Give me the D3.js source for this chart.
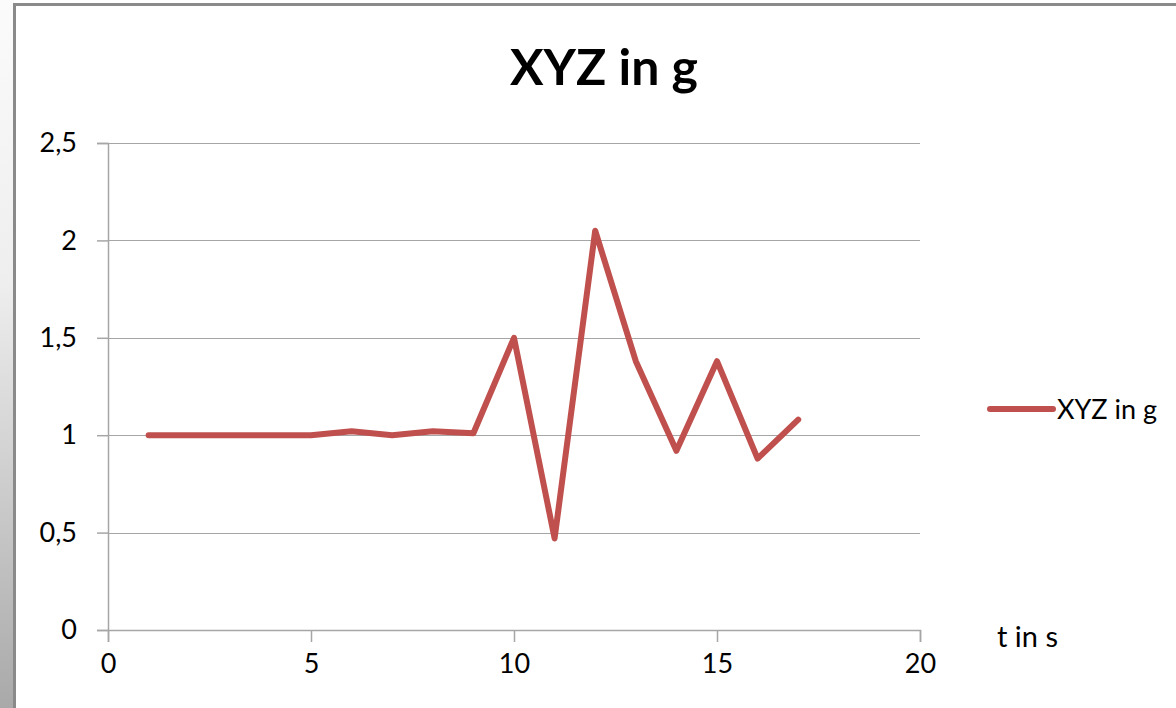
<!DOCTYPE html>
<html>
<head>
<meta charset="utf-8">
<script src="https://cdn.jsdelivr.net/npm/d3@7"></script>
<style>
  html, body { margin: 0; padding: 0; background: #fff; }
  svg { display: block; }
  text { font-family: Lato, "Open Sans", sans-serif; fill: #000; }
</style>
</head>
<body>
<svg id="chart" width="1176" height="708"></svg>
<script>
// ---- data ----
const title = "XYZ in g";
const seriesName = "XYZ in g";
const xAxisLabel = "t in s";
const tValues = [1, 2, 3, 4, 5, 6, 7, 8, 9, 10, 11, 12, 13, 14, 15, 16, 17];
const gValues = [1.0, 1.0, 1.0, 1.0, 1.0, 1.02, 1.0, 1.02, 1.01, 1.5, 0.47, 2.05, 1.38, 0.92, 1.38, 0.88, 1.08];
const xTicks = [0, 5, 10, 15, 20];
const yTicks = [0, 0.5, 1, 1.5, 2, 2.5];

const svg = d3.select("#chart");
const W = 1176, H = 708;

// background frame: left gradient strip + gray border
const defs = svg.append("defs");
const grad = defs.append("linearGradient").attr("id", "leftGrad")
  .attr("x1", 0).attr("y1", 0).attr("x2", 0).attr("y2", 1);
grad.append("stop").attr("offset", "0%").attr("stop-color", "#fbfbfb");
grad.append("stop").attr("offset", "40%").attr("stop-color", "#eeeeee");
grad.append("stop").attr("offset", "100%").attr("stop-color", "#a9a9a9");
svg.append("rect").attr("x", 0).attr("y", 0).attr("width", 14).attr("height", H).attr("fill", "url(#leftGrad)");
svg.append("line").attr("x1", 14.5).attr("x2", 14.5).attr("y1", 3).attr("y2", H)
  .attr("stroke", "#8a8a8a").attr("stroke-width", 3);
svg.append("line").attr("x1", 13).attr("x2", W).attr("y1", 4.5).attr("y2", 4.5)
  .attr("stroke", "#8a8a8a").attr("stroke-width", 3);

// scales
const x = d3.scaleLinear().domain([0, 20]).range([108, 920]);
const y = d3.scaleLinear().domain([0, 2.5]).range([630, 143]);

// gridlines
svg.append("g").selectAll("line").data(yTicks).join("line")
  .attr("x1", x(0)).attr("x2", x(20))
  .attr("y1", d => Math.round(y(d)) + 0.5).attr("y2", d => Math.round(y(d)) + 0.5)
  .attr("stroke", "#a6a6a6").attr("stroke-width", 1.2);

const fmt = d => d3.format("")(d).replace(".", ",");

// y axis
const yAxis = svg.append("g").attr("transform", `translate(${x(0)},0)`)
  .call(d3.axisLeft(y).tickValues(yTicks).tickSize(11).tickPadding(20).tickFormat(fmt));
// x axis
const xAxis = svg.append("g").attr("transform", `translate(0,${y(0)})`)
  .call(d3.axisBottom(x).tickValues(xTicks).tickSize(12).tickPadding(12).tickFormat(fmt));

[yAxis, xAxis].forEach(g => {
  g.select(".domain").attr("stroke", "#a6a6a6").attr("stroke-width", 1.5);
  g.selectAll(".tick line").attr("stroke", "#a6a6a6").attr("stroke-width", 1.5);
  g.selectAll(".tick text").attr("font-family", "Lato, sans-serif").attr("font-size", 27).attr("fill", "#222");
});

// series line
const line = d3.line().x((d, i) => x(tValues[i])).y(d => y(d));
svg.append("path").datum(gValues)
  .attr("d", line)
  .attr("fill", "none")
  .attr("stroke", "#C0504D")
  .attr("stroke-width", 6)
  .attr("stroke-linejoin", "round")
  .attr("stroke-linecap", "round");

// title
svg.append("text").attr("x", 604).attr("y", 85)
  .attr("text-anchor", "middle")
  .attr("font-size", 50).attr("font-weight", "bold")
  .text(title);

// x axis title
svg.append("text").attr("x", 997).attr("y", 647)
  .attr("font-size", 29)
  .text(xAxisLabel);

// legend
svg.append("line").attr("x1", 990).attr("x2", 1053).attr("y1", 409).attr("y2", 409)
  .attr("stroke", "#C0504D").attr("stroke-width", 6).attr("stroke-linecap", "round");
svg.append("text").attr("x", 1057).attr("y", 419)
  .attr("font-size", 27)
  .text(seriesName);
</script>
</body>
</html>
